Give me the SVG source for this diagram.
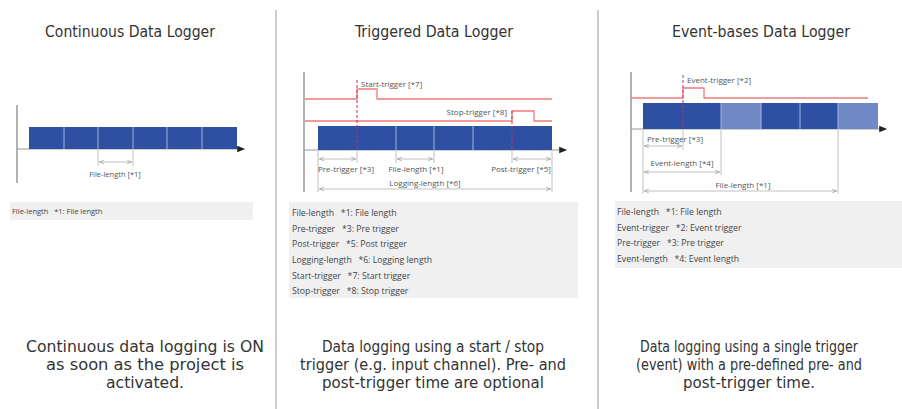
<svg xmlns="http://www.w3.org/2000/svg" width="902" height="409" viewBox="0 0 902 409">
<style>
  .title { font-family: "DejaVu Sans Condensed", "Liberation Sans Narrow", "Liberation Sans", sans-serif; font-size: 15px; fill: #333; text-anchor: middle; }
  .desc { font-family: "DejaVu Sans Condensed", "Liberation Sans Narrow", "Liberation Sans", sans-serif; font-size: 16.5px; fill: #333; text-anchor: middle; }
  .small { font-family: "Open Sans", "Noto Sans", "Liberation Sans", sans-serif; font-size: 7.5px; fill: #444; white-space: pre; }
  .small2 { font-family: "Open Sans", "Noto Sans", "Liberation Sans", sans-serif; font-size: 8.7px; fill: #444; white-space: pre; }
  .lbl { font-family: "Open Sans", "Noto Sans", "Liberation Sans", sans-serif; font-size: 7.5px; fill: #555; }
  .lbl2 { font-family: "Open Sans", "Noto Sans", "Liberation Sans", sans-serif; font-size: 8px; fill: #555; }
  .mid { text-anchor: middle; }
  .axis { stroke: #999; stroke-width: 1.5; fill: none; }
  .xaxis { stroke: #999; stroke-width: 1.2; fill: none; marker-end: url(#axArrow); }
  .bar { fill: #2d50a2; }
  .barl { fill: #6f89c6; }
  .cell { stroke: #9fb3dd; stroke-width: 1; }
  .sig { stroke: #f27a7a; stroke-width: 1.3; fill: none; }
  .trig { stroke: #c0305a; stroke-width: 1; stroke-dasharray: 3 2; fill: none; }
  .ext { stroke: #b0b0b0; stroke-width: 0.8; fill: none; }
  .dim { stroke: #b0b0b0; stroke-width: 0.8; fill: none; marker-start: url(#dimL); marker-end: url(#dimR); }
  .legend { fill: #f0f0f0; }
  .sep { stroke: #bdbdbd; stroke-width: 1.5; }
</style>
<defs>
  <marker id="axArrow" viewBox="0 0 10 10" refX="1" refY="5" markerWidth="9" markerHeight="8" orient="auto" markerUnits="userSpaceOnUse">
    <path d="M0,1 L10,5 L0,9 z" fill="#222"/>
  </marker>
  <marker id="dimR" viewBox="0 0 10 10" refX="10" refY="5" markerWidth="6" markerHeight="6" orient="auto" markerUnits="userSpaceOnUse">
    <path d="M2,2 L9,5 L2,8" fill="none" stroke="#999" stroke-width="1.2"/>
  </marker>
  <marker id="dimL" viewBox="0 0 10 10" refX="0" refY="5" markerWidth="6" markerHeight="6" orient="auto" markerUnits="userSpaceOnUse">
    <path d="M8,2 L1,5 L8,8" fill="none" stroke="#999" stroke-width="1.2"/>
  </marker>
</defs>
<rect width="902" height="409" fill="#ffffff"/>

<g id="separators">
  <line class="sep" x1="276" y1="10" x2="276" y2="409"/>
  <line class="sep" x1="598" y1="10" x2="598" y2="409"/>
</g>

<!-- Panel 1 -->
<g id="continuous">
  <text class="title" x="130" y="37" textLength="170" lengthAdjust="spacingAndGlyphs">Continuous Data Logger</text>
  <line class="axis" x1="17" y1="105" x2="17" y2="183"/>
  <line class="xaxis" x1="17" y1="149" x2="238" y2="149"/>
  <rect class="bar" x="29" y="127" width="208" height="22"/>
  <g class="cell">
    <line x1="64" y1="127" x2="64" y2="149"/>
    <line x1="98" y1="127" x2="98" y2="149"/>
    <line x1="133" y1="127" x2="133" y2="149"/>
    <line x1="167" y1="127" x2="167" y2="149"/>
    <line x1="202" y1="127" x2="202" y2="149"/>
  </g>
  <line class="ext" x1="98" y1="150" x2="98" y2="166"/>
  <line class="ext" x1="133" y1="150" x2="133" y2="166"/>
  <line class="dim" x1="99" y1="162" x2="132" y2="162"/>
  <text class="lbl mid" x="115" y="177">File-length [*1]</text>
  <rect class="legend" x="10" y="202" width="243" height="18"/>
  <text class="small" x="12" y="214">File-length   *1: File length</text>
  <text class="desc" x="145" y="352" textLength="238" lengthAdjust="spacingAndGlyphs">Continuous data logging is ON</text>
  <text class="desc" x="145" y="370" textLength="198" lengthAdjust="spacingAndGlyphs">as soon as the project is</text>
  <text class="desc" x="145" y="388" textLength="78" lengthAdjust="spacingAndGlyphs">activated.</text>
</g>

<!-- Panel 2 -->
<g id="triggered">
  <text class="title" x="434" y="37" textLength="158" lengthAdjust="spacingAndGlyphs">Triggered Data Logger</text>
  <line class="axis" x1="304" y1="72" x2="304" y2="192"/>
  <line class="xaxis" x1="304" y1="150" x2="560" y2="150"/>
  <polyline class="sig" points="305,99 357,99 357,89 377,89 377,99 552,99"/>
  <polyline class="sig" points="305,121 512,121 512,111 534,111 534,121 552,121"/>
  <rect class="bar" x="318" y="126" width="234" height="24"/>
  <g class="cell">
    <line x1="396" y1="126" x2="396" y2="150"/>
    <line x1="434" y1="126" x2="434" y2="150"/>
    <line x1="473" y1="126" x2="473" y2="150"/>
  </g>
  <line class="trig" x1="357" y1="80" x2="357" y2="150"/>
  <line class="trig" x1="512" y1="111" x2="512" y2="150"/>
  <text class="lbl2" x="361" y="87">Start-trigger [*7]</text>
  <text class="lbl2" x="507" y="115" text-anchor="end">Stop-trigger [*8]</text>
  <g class="ext">
    <line x1="318" y1="151" x2="318" y2="192"/>
    <line x1="357" y1="151" x2="357" y2="163"/>
    <line x1="396" y1="151" x2="396" y2="163"/>
    <line x1="434" y1="151" x2="434" y2="163"/>
    <line x1="512" y1="151" x2="512" y2="163"/>
    <line x1="552" y1="151" x2="552" y2="192"/>
  </g>
  <line class="dim" x1="319" y1="159" x2="356" y2="159"/>
  <line class="dim" x1="397" y1="159" x2="433" y2="159"/>
  <line class="dim" x1="513" y1="159" x2="551" y2="159"/>
  <line class="dim" x1="319" y1="189" x2="551" y2="189"/>
  <text class="lbl2 mid" x="346" y="172">Pre-trigger [*3]</text>
  <text class="lbl2 mid" x="416" y="172">File-length [*1]</text>
  <text class="lbl2 mid" x="521" y="172">Post-trigger [*5]</text>
  <text class="lbl2 mid" x="425" y="186">Logging-length [*6]</text>
  <rect class="legend" x="289" y="202" width="289" height="96"/>
  <text class="small2" x="292" y="216">File-length   *1: File length</text>
  <text class="small2" x="292" y="232">Pre-trigger   *3: Pre trigger</text>
  <text class="small2" x="292" y="247">Post-trigger   *5: Post trigger</text>
  <text class="small2" x="292" y="263">Logging-length   *6: Logging length</text>
  <text class="small2" x="292" y="279">Start-trigger   *7: Start trigger</text>
  <text class="small2" x="292" y="294">Stop-trigger   *8: Stop trigger</text>
  <text class="desc" x="433" y="352" textLength="222" lengthAdjust="spacingAndGlyphs">Data logging using a start / stop</text>
  <text class="desc" x="433" y="370" textLength="266" lengthAdjust="spacingAndGlyphs">trigger (e.g. input channel). Pre- and</text>
  <text class="desc" x="433" y="388" textLength="222" lengthAdjust="spacingAndGlyphs">post-trigger time are optional</text>
</g>

<!-- Panel 3 -->
<g id="event-based">
  <text class="title" x="761" y="37" textLength="178" lengthAdjust="spacingAndGlyphs">Event-bases Data Logger</text>
  <line class="axis" x1="631" y1="72" x2="631" y2="192"/>
  <line class="xaxis" x1="631" y1="129" x2="880" y2="129"/>
  <polyline class="sig" points="631,98 683,98 683,88 704,88 704,98 868,98"/>
  <rect class="bar" x="643" y="103" width="78" height="26"/>
  <rect class="barl" x="721" y="103" width="40" height="26"/>
  <rect class="bar" x="761" y="103" width="77" height="26"/>
  <rect class="barl" x="838" y="103" width="40" height="26"/>
  <g class="cell">
    <line x1="721" y1="103" x2="721" y2="129"/>
    <line x1="761" y1="103" x2="761" y2="129"/>
    <line x1="800" y1="103" x2="800" y2="129"/>
    <line x1="838" y1="103" x2="838" y2="129"/>
  </g>
  <line class="trig" x1="683" y1="75" x2="683" y2="129"/>
  <text class="lbl2" x="687" y="83">Event-trigger [*2]</text>
  <g class="ext">
    <line x1="643" y1="130" x2="643" y2="194"/>
    <line x1="683" y1="130" x2="683" y2="150"/>
    <line x1="721" y1="130" x2="721" y2="175"/>
    <line x1="838" y1="130" x2="838" y2="194"/>
  </g>
  <line class="dim" x1="644" y1="146" x2="682" y2="146"/>
  <line class="dim" x1="644" y1="172" x2="720" y2="172"/>
  <line class="dim" x1="644" y1="191" x2="837" y2="191"/>
  <text class="lbl2" x="647" y="142">Pre-trigger [*3]</text>
  <text class="lbl2 mid" x="682" y="166">Event-length [*4]</text>
  <text class="lbl2 mid" x="743" y="188">File-length [*1]</text>
  <rect class="legend" x="615" y="201" width="287" height="67"/>
  <text class="small2" x="617" y="215">File-length   *1: File length</text>
  <text class="small2" x="617" y="231">Event-trigger   *2: Event trigger</text>
  <text class="small2" x="617" y="246">Pre-trigger   *3: Pre trigger</text>
  <text class="small2" x="617" y="262">Event-length   *4: Event length</text>
  <text class="desc" x="749" y="352" textLength="218" lengthAdjust="spacingAndGlyphs">Data logging using a single trigger</text>
  <text class="desc" x="749" y="370" textLength="226" lengthAdjust="spacingAndGlyphs">(event) with a pre-defined pre- and</text>
  <text class="desc" x="749" y="388" textLength="132" lengthAdjust="spacingAndGlyphs">post-trigger time.</text>
</g>
</svg>
